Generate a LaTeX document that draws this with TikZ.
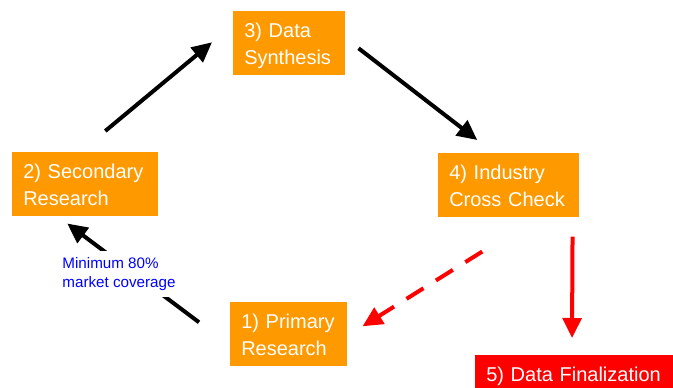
\documentclass[tikz,border=0pt]{standalone}
\usepackage{fontspec}
\setmainfont{Liberation Sans}
\usetikzlibrary{arrows.meta,calc}

\definecolor{boxorange}{HTML}{FF9900}

\begin{document}
\begin{tikzpicture}
            [
                x=0.75pt, y=-0.75pt,
                stepbox/.style={
                    fill=boxorange, text=white, anchor=north west,
                    align=left, inner xsep=8.25pt, inner ysep=9.75pt,
                    text height=9.75pt, text depth=18.75pt,
                    font=\fontsize{15}{20.25}\selectfont
                },
                flow/.style={line width=3pt,
                    -{Triangle[length=15pt,width=14pt]}},
                note/.style={fill=white, text=blue, align=left,
                    inner sep=5pt, font=\fontsize{11.4}{14.25}\selectfont}
            ]
            \clip (0,0) rectangle (673,387);

            % the five steps
            \node[stepbox, text width=93pt] (sec) at (12,152) {2) Secondary\\Research};
            \node[stepbox, text width=67.5pt] (syn) at (233,11) {3) Data\\Synthesis};
            \node[stepbox, text width=89.25pt] (ind) at (438,153) {4) Industry\\Cross Check};
            \node[stepbox, text width=71.25pt] (prim) at (230,302) {1) Primary\\Research};
            \node[stepbox, fill=red, text width=138pt] (fin) at (475,355) {5) Data Finalization};

            % the cycle
            \draw[flow] ($(sec.north)+(20,-21)$) -- ($(syn.west)+(-21,-1)$);
            \draw[flow] ($(syn.east)+(13,5)$) -- ($(ind.north)+(-31.5,-13)$);
            \draw[flow] ($(prim.west)+(-31,-12)$) -- ($(sec.south)+(-18,7)$);
            \node[note] (cov) at (119,274) {Minimum 80\%\\market coverage};
            % \draw[flow, red] (ind) -- (prim);
            \draw[flow, red, dash pattern=on 15pt off 11pt]
                ($(ind.south)+(-26.5,34)$) -- ($(prim.east)+(15,-8)$);
            \draw[flow, red] ($(ind.south east)+(-7,19)$) -- ($(fin.north west)+(97,-17)$);
\end{tikzpicture}
\end{document}
